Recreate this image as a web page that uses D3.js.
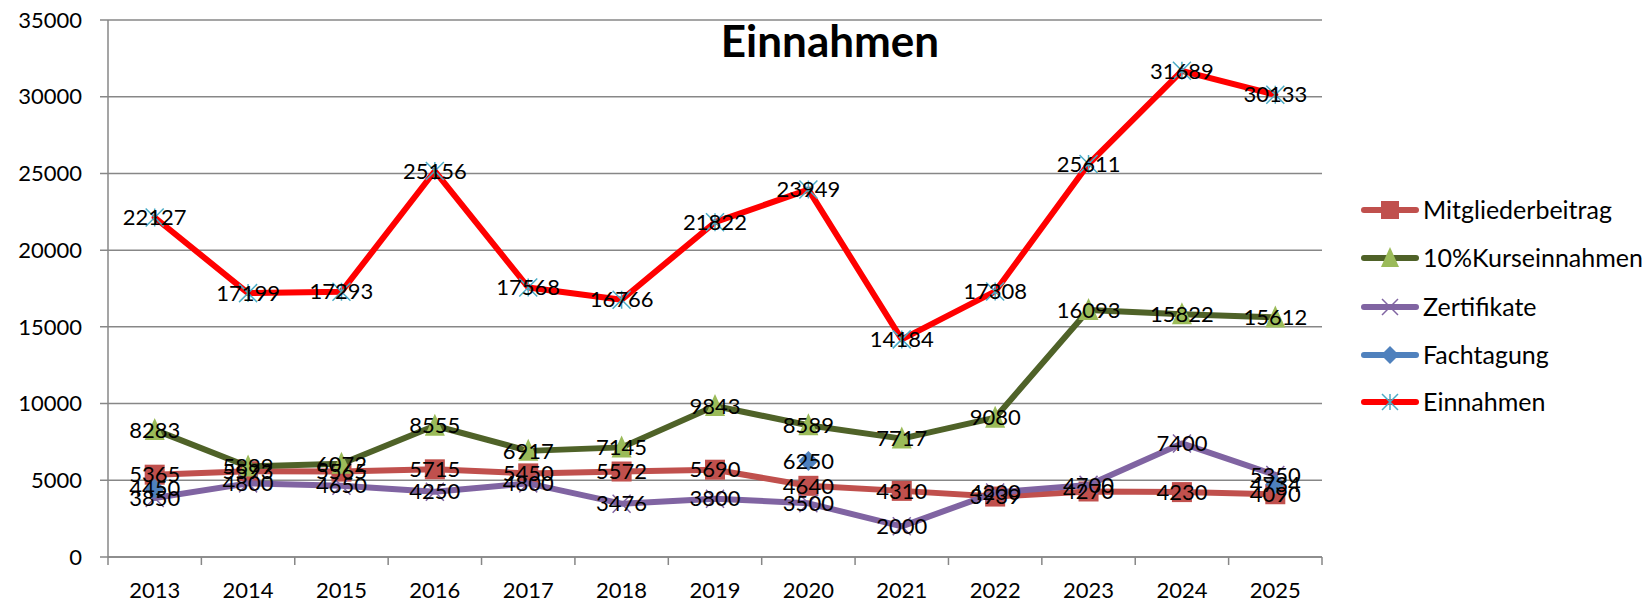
<!DOCTYPE html>
<html>
<head>
<meta charset="utf-8">
<script src="https://cdn.jsdelivr.net/npm/d3@7"></script>
<style>
  body { margin: 0; background: #fff; }
  svg { display: block; font-family: Lato, "Liberation Sans", sans-serif; }
</style>
</head>
<body>
<div id="chart"></div>
<script>
// data
var years = ['2013','2014','2015','2016','2017','2018','2019','2020','2021','2022','2023','2024','2025'];
var mitglieder = [5365, 5593, 5565, 5715, 5450, 5572, 5690, 4640, 4310, 3939, 4270, 4230, 4090];
var kurse = [8283, 5899, 6072, 8555, 6917, 7145, 9843, 8589, 7717, 9080, 16093, 15822, 15612];
var zertifikate = [3850, 4800, 4650, 4250, 4800, 3476, 3800, 3500, 2000, 4200, 4700, 7400, 5350];
var fachtagung = [4450, null, null, null, null, null, null, 6250, null, null, null, null, 4734];
var einnahmen = [22127, 17199, 17293, 25156, 17568, 16766, 21822, 23949, 14184, 17308, 25611, 31689, 30133];
var yTicks = [0, 5000, 10000, 15000, 20000, 25000, 30000, 35000];

var series = [
  {name: 'Mitgliederbeitrag', values: mitglieder, line: '#C0504D', fill: '#C0504D', marker: 'square'},
  {name: '10%Kurseinnahmen', values: kurse, line: '#4F6228', fill: '#9BBB59', marker: 'triangle'},
  {name: 'Zertifikate', values: zertifikate, line: '#8064A2', fill: '#8064A2', marker: 'x'},
  {name: 'Fachtagung', values: fachtagung, line: '#4F81BD', fill: '#4F81BD', marker: 'diamond'},
  {name: 'Einnahmen', values: einnahmen, line: '#FF0000', fill: '#4BACC6', marker: 'star'}
];

var chart_width = 1645, chart_height = 603;
var plot_left = 108, plot_right = 1322, plot_top = 20, plot_bottom = 557;

var svg = d3.select('#chart').append('svg')
  .attr('width', chart_width).attr('height', chart_height);

var x = d3.scaleBand().domain(years).range([plot_left, plot_right]);
var y = d3.scaleLinear().domain([0, 35000]).range([plot_bottom, plot_top]);
function cx(i) { return x(years[i]) + x.bandwidth() / 2; }

// gridlines + y labels
svg.selectAll('line.grid').data(yTicks).enter().append('line')
  .attr('x1', plot_left - 8).attr('x2', plot_right)
  .attr('y1', function(d){ return y(d); }).attr('y2', function(d){ return y(d); })
  .attr('stroke', '#878787').attr('stroke-width', 1.5);

svg.selectAll('text.ylab').data(yTicks).enter().append('text')
  .attr('x', 82).attr('y', function(d){ return y(d); })
  .attr('dy', '0.35em').attr('text-anchor', 'end')
  .attr('font-size', 22).attr('fill', '#000')
  .text(function(d){ return d; });

// axes lines
svg.append('line').attr('x1', plot_left).attr('x2', plot_left).attr('y1', plot_top).attr('y2', plot_bottom)
  .attr('stroke', '#878787').attr('stroke-width', 1.5);
svg.append('line').attr('x1', plot_left).attr('x2', plot_right).attr('y1', plot_bottom).attr('y2', plot_bottom)
  .attr('stroke', '#878787').attr('stroke-width', 1.5);

// x ticks between categories
var bounds = years.map(function(d){ return x(d); }).concat([plot_right]);
svg.selectAll('line.xtick').data(bounds).enter().append('line')
  .attr('x1', function(d){ return d; }).attr('x2', function(d){ return d; })
  .attr('y1', plot_bottom).attr('y2', plot_bottom + 8)
  .attr('stroke', '#878787').attr('stroke-width', 1.5);

svg.selectAll('text.xlab').data(years).enter().append('text')
  .attr('x', function(d, i){ return cx(i); }).attr('y', 590)
  .attr('dy', '0.35em').attr('text-anchor', 'middle')
  .attr('font-size', 22).attr('fill', '#000')
  .text(function(d){ return d; });

// marker drawing
function drawMarker(g, type, px, py, s) {
  var h = s / 2;
  if (type === 'square') {
    g.append('rect').attr('x', px - h).attr('y', py - h).attr('width', s).attr('height', s)
      .attr('fill', '#C0504D');
  } else if (type === 'triangle') {
    g.append('path').attr('d', 'M' + px + ',' + (py - h - 2) + 'L' + (px + h) + ',' + (py + h) + 'L' + (px - h) + ',' + (py + h) + 'Z')
      .attr('fill', '#9BBB59');
  } else if (type === 'diamond') {
    g.append('path').attr('d', 'M' + px + ',' + (py - h) + 'L' + (px + h) + ',' + py + 'L' + px + ',' + (py + h) + 'L' + (px - h) + ',' + py + 'Z')
      .attr('fill', '#4F81BD');
  } else if (type === 'x') {
    g.append('path').attr('d', 'M' + (px - h) + ',' + (py - h) + 'L' + (px + h) + ',' + (py + h) + 'M' + (px - h) + ',' + (py + h) + 'L' + (px + h) + ',' + (py - h))
      .attr('stroke', '#8064A2').attr('stroke-width', 1.5);
  } else if (type === 'star') {
    g.append('path').attr('d', 'M' + (px - h) + ',' + (py - h) + 'L' + (px + h) + ',' + (py + h) + 'M' + (px - h) + ',' + (py + h) + 'L' + (px + h) + ',' + (py - h) + 'M' + px + ',' + (py - h) + 'L' + px + ',' + (py + h))
      .attr('stroke', '#4BACC6').attr('stroke-width', 1.5);
  }
}

var line = d3.line()
  .defined(function(d){ return d != null; })
  .x(function(d, i){ return cx(i); })
  .y(function(d){ return y(d); });

series.forEach(function(s) {
  var g = svg.append('g');
  g.append('path').datum(s.values)
    .attr('d', line).attr('fill', 'none')
    .attr('stroke', s.line).attr('stroke-width', 6)
    .attr('stroke-linejoin', 'round').attr('stroke-linecap', 'round');
  s.values.forEach(function(v, i) {
    if (v == null) return;
    drawMarker(g, s.marker, cx(i), y(v), s.marker === 'x' || s.marker === 'star' ? 18 : 20);
  });
});

// data labels on top
series.forEach(function(s) {
  svg.append('g').selectAll('text').data(s.values.map(function(v, i){ return {v: v, i: i}; }).filter(function(d){ return d.v != null; }))
    .enter().append('text')
    .attr('x', function(d){ return cx(d.i); })
    .attr('y', function(d){ return y(d.v); })
    .attr('dy', '0.35em').attr('text-anchor', 'middle')
    .attr('font-size', 22).attr('fill', '#000')
    .text(function(d){ return d.v; });
});

// title
svg.append('text').attr('x', 830).attr('y', 42).attr('dy', '0.35em')
  .attr('text-anchor', 'middle').attr('font-size', 44).attr('font-weight', 'bold')
  .text('Einnahmen');

// legend
var legY = [210, 258, 307, 355, 402];
series.forEach(function(s, k) {
  var g = svg.append('g');
  g.append('line').attr('x1', 1364).attr('x2', 1416).attr('y1', legY[k]).attr('y2', legY[k])
    .attr('stroke', s.line).attr('stroke-width', 6).attr('stroke-linecap', 'round');
  drawMarker(g, s.marker, 1390, legY[k], s.marker === 'x' || s.marker === 'star' ? 16 : 18);
  g.append('text').attr('x', 1423).attr('y', legY[k]).attr('dy', '0.35em')
    .attr('font-size', 25).attr('fill', '#000').text(s.name);
});
</script>
</body>
</html>
